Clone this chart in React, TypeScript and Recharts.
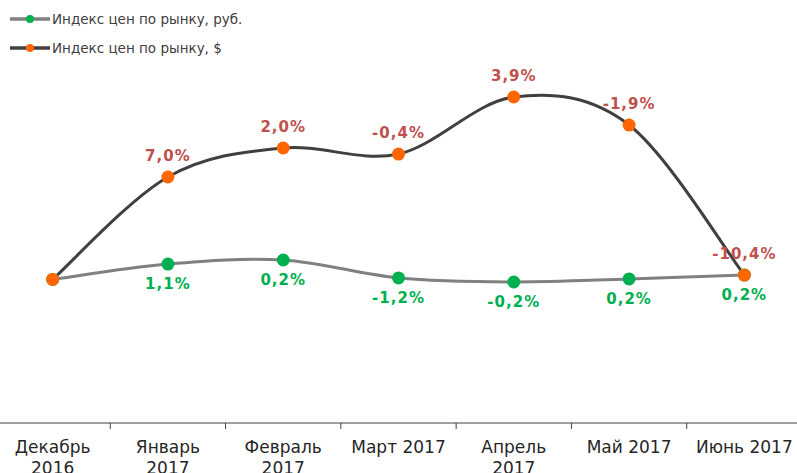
import React from 'react';
import { LineChart, Line, XAxis, YAxis, LabelList, Legend } from 'recharts';

const categories = ['Декабрь 2016', 'Январь 2017', 'Февраль 2017', 'Март 2017', 'Апрель 2017', 'Май 2017', 'Июнь 2017'];
const rubIndex = [100, 101.07, 101.35, 100.1, 99.82, 100.03, 100.3];
const usdIndex = [100, 107.13, 109.15, 108.73, 112.7, 110.75, 100.3];
const rubLabels = ['', '1,1%', '0,2%', '-1,2%', '-0,2%', '0,2%', '0,2%'];
const usdLabels = ['', '7,0%', '2,0%', '-0,4%', '3,9%', '-1,9%', '-10,4%'];
const seriesNames = ['Индекс цен по рынку, руб.', 'Индекс цен по рынку, $'];
const yDomain = [90, 115];

const RUB_LINE = '#808080';
const USD_LINE = '#404040';
const RUB_DOT = '#00b050';
const USD_DOT = '#ff6600';
const RUB_TEXT = '#00b050';
const USD_TEXT = '#c0504d';
const FONT = '"DejaVu Sans", Verdana, sans-serif';

const data = categories.map((name, i) => ({
  name,
  rub: rubIndex[i],
  usd: usdIndex[i],
  rubLabel: rubLabels[i],
  usdLabel: usdLabels[i],
}));

// Excel-like smoothed line (Catmull-Rom style bezier)
function excelSmooth(context: any) {
  let pts: number[][] = [];
  return {
    areaStart() {},
    areaEnd() {},
    lineStart() {
      pts = [];
    },
    point(x: number, y: number) {
      pts.push([+x, +y]);
    },
    lineEnd() {
      const n = pts.length;
      if (!n) return;
      context.moveTo(pts[0][0], pts[0][1]);
      for (let i = 0; i < n - 1; i++) {
        const p0 = pts[Math.max(0, i - 1)];
        const p1 = pts[i];
        const p2 = pts[i + 1];
        const p3 = pts[Math.min(n - 1, i + 2)];
        const c1x = p1[0] + (p2[0] - p0[0]) / 6;
        const c1y = p1[1] + (p2[1] - p0[1]) / 6;
        const c2x = p2[0] - (p3[0] - p1[0]) / 6;
        const c2y = p2[1] - (p3[1] - p1[1]) / 6;
        context.bezierCurveTo(c1x, c1y, c2x, c2y, p2[0], p2[1]);
      }
    },
  };
}

const AxisTick = (props: any) => {
  const { x, y, payload, index, visibleTicksCount } = props;
  const half = payload && typeof payload.offset === 'number' && payload.offset > 0 ? payload.offset : 57.6;
  const label = String(payload.value);
  const lines = label.length > 9 ? label.split(' ') : [label];
  return (
    <g>
      <line x1={x - half} y1={y} x2={x - half} y2={y + 6} stroke="#404040" strokeWidth={1} />
      {index === visibleTicksCount - 1 && (
        <line x1={x + half} y1={y} x2={x + half} y2={y + 6} stroke="#404040" strokeWidth={1} />
      )}
      <text x={x} y={y + 30} textAnchor="middle" fontSize={17} fill="#262626" fontFamily={FONT}>
        {lines.map((l, i) => (
          <tspan key={i} x={x} dy={i === 0 ? 0 : 21}>
            {l}
          </tspan>
        ))}
      </text>
    </g>
  );
};

const renderLegend = () => {
  const rows = [
    { name: seriesNames[0], line: RUB_LINE, dot: RUB_DOT },
    { name: seriesNames[1], line: USD_LINE, dot: USD_DOT },
  ];
  return (
    <svg width={300} height={64} style={{ display: 'block' }}>
      {rows.map((r, i) => {
        const cy = 19 + i * 29;
        return (
          <g key={i}>
            <line x1={10} y1={cy} x2={50} y2={cy} stroke={r.line} strokeWidth={3.5} />
            <circle cx={30} cy={cy} r={4} fill={r.dot} />
            <text x={52} y={cy + 5} fontSize={13.5} fill="#404040" fontFamily={FONT}>
              {r.name}
            </text>
          </g>
        );
      })}
    </svg>
  );
};

export default function App() {
  return (
    <div style={{ position: 'absolute', left: 0, top: 0, width: 797, height: 473, background: '#fff' }}>
      <LineChart width={797} height={473} data={data} margin={{ top: 64, right: -5, bottom: 0, left: -5 }}>
        <XAxis
          dataKey="name"
          scale="band"
          interval={0}
          height={50}
          tickLine={false}
          tickSize={0}
          tickMargin={0}
          axisLine={{ stroke: '#404040', strokeWidth: 1 }}
          tick={<AxisTick />}
        />
        <YAxis hide domain={yDomain} type="number" />
        <Legend
          layout="horizontal"
          verticalAlign="middle"
          align="center"
          wrapperStyle={{ top: 0, left: 0, width: 300, height: 64 }}
          content={renderLegend}
        />
        <Line
          dataKey="rub"
          name={seriesNames[0]}
          type={excelSmooth as any}
          stroke={RUB_LINE}
          strokeWidth={3}
          dot={{ r: 6.5, fill: RUB_DOT, stroke: 'none', strokeWidth: 0 }}
          activeDot={false}
          isAnimationActive={false}
        >
          <LabelList
            dataKey="rubLabel"
            position="bottom"
            offset={14}
            fill={RUB_TEXT}
            fontSize={15}
            fontWeight="bold"
            letterSpacing={1}
            fontFamily={FONT}
          />
        </Line>
        <Line
          dataKey="usd"
          name={seriesNames[1]}
          type={excelSmooth as any}
          stroke={USD_LINE}
          strokeWidth={3}
          dot={{ r: 6.5, fill: USD_DOT, stroke: 'none', strokeWidth: 0 }}
          activeDot={false}
          isAnimationActive={false}
        >
          <LabelList
            dataKey="usdLabel"
            position="top"
            offset={16}
            fill={USD_TEXT}
            fontSize={15}
            fontWeight="bold"
            letterSpacing={1}
            fontFamily={FONT}
          />
        </Line>
      </LineChart>
    </div>
  );
}
